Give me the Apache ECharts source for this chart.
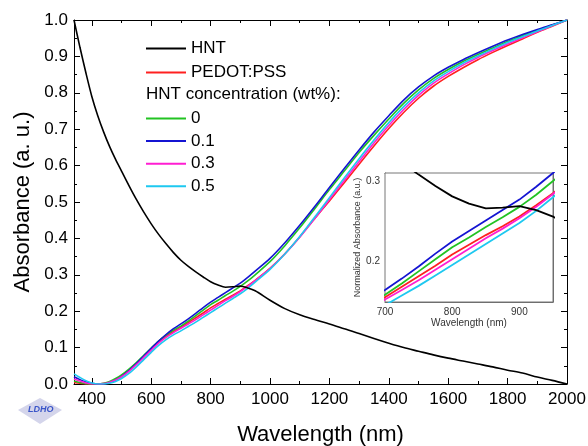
<!DOCTYPE html>
<html>
<head>
<meta charset="utf-8">
<script src="https://cdn.jsdelivr.net/npm/echarts@6/dist/echarts.min.js"></script>
<style>
html,body{margin:0;padding:0;background:#fff;}
#chart{width:588px;height:446px;}
</style>
</head>
<body>
<div id="chart"></div>
<script>
const wavelength = [340,360,380,400,420,440,460,480,500,525,550,575,600,625,650,675,700,725,750,775,800,825,850,875,900,925,950,1000,1050,1100,1150,1200,1250,1300,1350,1400,1450,1500,1550,1600,1650,1700,1750,1800,1850,1900,1950,2000];
const hnt = [1.0,0.925,0.855,0.79,0.737,0.692,0.652,0.617,0.585,0.545,0.507,0.472,0.44,0.411,0.385,0.361,0.34,0.323,0.308,0.294,0.281,0.272,0.266,0.267,0.269,0.264,0.256,0.23,0.207,0.19,0.177,0.165,0.152,0.139,0.125,0.112,0.1,0.09,0.08,0.071,0.063,0.055,0.047,0.038,0.03,0.019,0.01,0.0];
const pedot = [0.004,0.002,0.0,0.0,0.0,0.001,0.005,0.012,0.022,0.038,0.056,0.076,0.096,0.115,0.131,0.144,0.156,0.169,0.182,0.195,0.209,0.221,0.233,0.244,0.256,0.27,0.285,0.318,0.358,0.404,0.454,0.503,0.553,0.604,0.654,0.702,0.746,0.785,0.818,0.845,0.869,0.891,0.911,0.93,0.948,0.966,0.983,1.0];
const conc0 = [0.008,0.004,0.001,0.0,0.0,0.002,0.007,0.015,0.025,0.041,0.059,0.079,0.099,0.118,0.134,0.148,0.159,0.173,0.188,0.203,0.218,0.23,0.243,0.255,0.268,0.283,0.3,0.336,0.38,0.429,0.481,0.534,0.585,0.636,0.683,0.728,0.771,0.808,0.839,0.864,0.886,0.905,0.923,0.941,0.957,0.972,0.986,1.0];
const conc01 = [0.02,0.012,0.006,0.002,0.0,0.0,0.004,0.011,0.021,0.037,0.056,0.077,0.098,0.118,0.136,0.152,0.165,0.179,0.194,0.21,0.225,0.238,0.251,0.264,0.277,0.293,0.31,0.345,0.388,0.436,0.487,0.54,0.592,0.643,0.692,0.737,0.78,0.816,0.846,0.87,0.891,0.91,0.928,0.945,0.96,0.974,0.987,1.0];
const conc03 = [0.014,0.008,0.003,0.0,0.0,0.001,0.005,0.011,0.02,0.035,0.053,0.073,0.093,0.112,0.128,0.141,0.153,0.165,0.177,0.19,0.203,0.216,0.229,0.241,0.254,0.268,0.284,0.317,0.357,0.403,0.454,0.507,0.559,0.611,0.662,0.71,0.754,0.793,0.826,0.852,0.876,0.897,0.916,0.934,0.951,0.968,0.984,1.0];
const conc05 = [0.028,0.018,0.009,0.003,0.0,0.0,0.002,0.007,0.015,0.029,0.047,0.067,0.087,0.106,0.122,0.135,0.146,0.158,0.17,0.183,0.196,0.209,0.222,0.235,0.248,0.263,0.28,0.315,0.357,0.405,0.458,0.512,0.566,0.619,0.67,0.718,0.762,0.8,0.832,0.858,0.881,0.901,0.92,0.938,0.954,0.97,0.985,1.0];

const xMajorTicks = [400,600,800,1000,1200,1400,1600,1800,2000];
const xMinorTicks = [500,700,900,1100,1300,1500,1700,1900];
const insetXLabels = [700,800,900];
const insetYLabels = [0.2,0.3];

const seriesDefs = [
  {name:'PEDOT:PSS', data:pedot, color:'#ff2020'},
  {name:'0', data:conc0, color:'#22c322'},
  {name:'0.1', data:conc01, color:'#1414d2'},
  {name:'0.3', data:conc03, color:'#ff1ed2'},
  {name:'0.5', data:conc05, color:'#1ec8f0'},
  {name:'HNT', data:hnt, color:'#000000'}
];

const FONT = 'Liberation Sans, Arial, sans-serif';
const chart = echarts.init(document.getElementById('chart'));

function pairs(arr){ return wavelength.map((w,i)=>[w,arr[i]]); }

const series = [];
seriesDefs.forEach(s=>{
  series.push({type:'line', name:s.name, data:pairs(s.data), xAxisIndex:0, yAxisIndex:0,
    symbol:'none', showSymbol:false, smooth:0.3, lineStyle:{color:s.color, width:1.6}, itemStyle:{color:s.color}, z:s.name==='HNT'?3:2});
});
seriesDefs.forEach(s=>{
  series.push({type:'line', name:s.name, data:pairs(s.data), xAxisIndex:4, yAxisIndex:2,
    symbol:'none', showSymbol:false, smooth:false, clip:true, lineStyle:{color:s.color, width:1.8}, itemStyle:{color:s.color}, z:5});
});

const blk = {color:'#000', width:1};
const gry = {color:'#666', width:1};
const near = (v,list)=>list.some(t=>Math.abs(v-t)<1e-6);

const legendCommon = {orient:'vertical', left:146, padding:0, icon:'rect', itemWidth:40, itemHeight:2,
  textStyle:{fontSize:17, color:'#000', fontFamily:FONT}, selectedMode:false};

const option = {
  backgroundColor:'#fff',
  animation:false,
  grid:[
    {left:74, right:21, top:20, bottom:62, show:false, outerBoundsMode:'none', containLabel:false},
    {left:385, right:35, top:173, bottom:144, show:true, borderColor:'#777', borderWidth:1, backgroundColor:'#fff', z:4, outerBoundsMode:'none', containLabel:false}
  ],
  xAxis:[
    {gridIndex:0, type:'value', position:'bottom', min:340, max:2000,
      axisLine:{show:true, lineStyle:blk}, splitLine:{show:false},
      axisTick:{show:true, inside:true, length:6, customValues:xMajorTicks, lineStyle:blk},
      axisLabel:{customValues:xMajorTicks, fontSize:17, color:'#000', margin:7, fontFamily:FONT, formatter:v=>String(v)},
      name:'Wavelength (nm)', nameLocation:'middle', nameGap:40,
      nameTextStyle:{fontSize:22, color:'#000', fontFamily:FONT}},
    {gridIndex:0, type:'value', position:'bottom', min:340, max:2000,
      axisLine:{show:false}, splitLine:{show:false}, axisLabel:{show:false},
      axisTick:{show:true, inside:true, length:3, customValues:xMinorTicks, lineStyle:blk}},
    {gridIndex:0, type:'value', position:'top', min:340, max:2000,
      axisLine:{show:true, lineStyle:blk}, splitLine:{show:false}, axisLabel:{show:false},
      axisTick:{show:true, inside:true, length:6, customValues:xMajorTicks, lineStyle:blk}},
    {gridIndex:0, type:'value', position:'top', min:340, max:2000,
      axisLine:{show:false}, splitLine:{show:false}, axisLabel:{show:false},
      axisTick:{show:true, inside:true, length:3, customValues:xMinorTicks, lineStyle:blk}},
    {gridIndex:1, type:'value', position:'bottom', min:700, max:950, interval:50,
      axisLine:{show:true, lineStyle:gry}, splitLine:{show:false},
      axisTick:{show:true, inside:true, length:3, lineStyle:gry},
      axisLabel:{fontSize:10, color:'#333', margin:5, fontFamily:FONT,
        formatter:v=>near(v,insetXLabels)?String(v):''},
      name:'Wavelength (nm)', nameLocation:'middle', nameGap:16,
      nameTextStyle:{fontSize:10, color:'#333', fontFamily:FONT}},
    {gridIndex:1, type:'value', position:'top', min:700, max:950, interval:50,
      axisLine:{show:true, lineStyle:gry}, splitLine:{show:false}, axisLabel:{show:false},
      axisTick:{show:true, inside:true, length:3, lineStyle:gry}}
  ],
  yAxis:[
    {gridIndex:0, type:'value', position:'left', min:0, max:1, interval:0.1,
      axisLine:{show:true, lineStyle:blk}, splitLine:{show:false},
      axisTick:{show:true, inside:true, length:6, lineStyle:blk},
      minorTick:{show:true, splitNumber:2, length:3, lineStyle:blk}, minorSplitLine:{show:false},
      axisLabel:{fontSize:17, color:'#000', margin:6, fontFamily:FONT, formatter:v=>v.toFixed(1)},
      name:'Absorbance (a. u.)', nameLocation:'middle', nameGap:38,
      nameTextStyle:{fontSize:22, color:'#000', fontFamily:FONT}},
    {gridIndex:0, type:'value', position:'right', min:0, max:1, interval:0.1,
      axisLine:{show:true, lineStyle:blk}, splitLine:{show:false}, axisLabel:{show:false},
      axisTick:{show:true, inside:true, length:6, lineStyle:blk},
      minorTick:{show:true, splitNumber:2, length:3, lineStyle:blk}},
    {gridIndex:1, type:'value', position:'left', min:0.15, max:0.31, interval:0.05,
      axisLine:{show:true, lineStyle:gry}, splitLine:{show:false},
      axisTick:{show:true, inside:true, length:3, lineStyle:gry},
      axisLabel:{fontSize:10, color:'#333', margin:5, fontFamily:FONT, showMaxLabel:false,
        formatter:v=>near(v,insetYLabels)?v.toFixed(1):''},
      name:'Normalized Absorbance (a.u.)', nameLocation:'middle', nameGap:21,
      nameTextStyle:{fontSize:9, color:'#333', fontFamily:FONT}},
    {gridIndex:1, type:'value', position:'right', min:0.15, max:0.31, interval:0.05,
      axisLine:{show:true, lineStyle:gry}, splitLine:{show:false}, axisLabel:{show:false},
      axisTick:{show:true, inside:true, length:3, lineStyle:gry}}
  ],
  legend:[
    Object.assign({data:['HNT','PEDOT:PSS'], top:40, itemGap:7}, legendCommon),
    Object.assign({data:['0','0.1','0.3','0.5'], top:110, itemGap:5.6}, legendCommon)
  ],
  graphic:[
    {type:'text', left:146, top:86, style:{text:'HNT concentration (wt%):', fontSize:17, fill:'#000', fontFamily:FONT}},
    {type:'polygon', shape:{points:[[40,398],[62,410],[40,424],[18,410]]}, style:{fill:'#c9cbe6', opacity:0.8}},
    {type:'text', left:28, top:405, style:{text:'LDHO', fontSize:9, fontWeight:'bold', fontStyle:'italic', fill:'#3a55c8', fontFamily:FONT}}
  ],
  series:series
};
chart.setOption(option);
</script>
</body>
</html>
